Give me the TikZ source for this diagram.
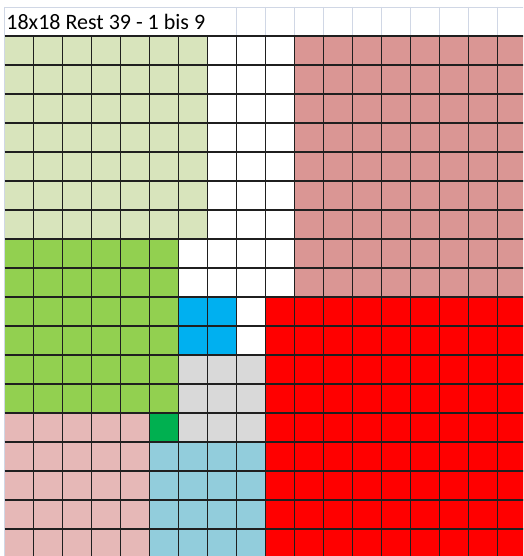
\documentclass[tikz,border=0pt]{standalone}
\usepackage{fontspec}
\setmainfont{Carlito}
\definecolor{lgreen}{HTML}{D8E4BC}
\definecolor{cgreen}{HTML}{92D050}
\definecolor{rose}{HTML}{DA9694}
\definecolor{cred}{HTML}{FF0000}
\definecolor{cblue}{HTML}{00B0F0}
\definecolor{cgray}{HTML}{D9D9D9}
\definecolor{dgreen}{HTML}{00B050}
\definecolor{cpink}{HTML}{E6B8B7}
\definecolor{lblue}{HTML}{92CDDC}
\definecolor{xlgrid}{HTML}{D0D7E5}
\tikzset{
  gridline/.style={line width=1.7pt, draw=black!88},
  lightline/.style={line width=0.9pt, draw=xlgrid},
  titletext/.style={anchor=base west, inner sep=0pt, font=\fontsize{22}{26}\selectfont}
}
\begin{document}
\begin{tikzpicture}[x=1pt,y=-1pt]
\useasboundingbox (0,0) rectangle (523,556);
\clip (0,0) rectangle (523,556);
\fill[white] (0,0) rectangle (523,556);
\begin{scope}[shift={(4.5,36)}, x=29pt, y=-29pt]
  % colour blocks
  \fill[lgreen] (0,0) rectangle (7,7);
  \fill[cgreen] (0,7) rectangle (6,13);
  \fill[rose] (10,0) rectangle (18,9);
  \fill[cred] (9,9) rectangle (18,18);
  \fill[cblue] (6,9) rectangle (8,11);
  \fill[cgray] (6,11) rectangle (9,14);
  \fill[dgreen] (5,13) rectangle (6,14);
  \fill[cpink] (0,13) rectangle (5,18);
  \fill[lblue] (5,14) rectangle (9,18);
  % header light grid
  \draw[lightline] (0,-1) -- (18,-1);
  \draw[lightline] (0,-1) -- (0,18);
  \foreach \i in {8,...,18} \draw[lightline] (\i,-1) -- (\i,0);
  % black grid
  \foreach \i in {1,...,18} \draw[gridline] (\i,0) -- (\i,18);
  \foreach \j in {0,...,18} \draw[gridline] (0,\j) -- (18,\j);
  % title
  \node[titletext] (title) at (0.06,-0.24) {18x18 Rest 39 - 1 bis 9};
\end{scope}
\end{tikzpicture}
\end{document}
